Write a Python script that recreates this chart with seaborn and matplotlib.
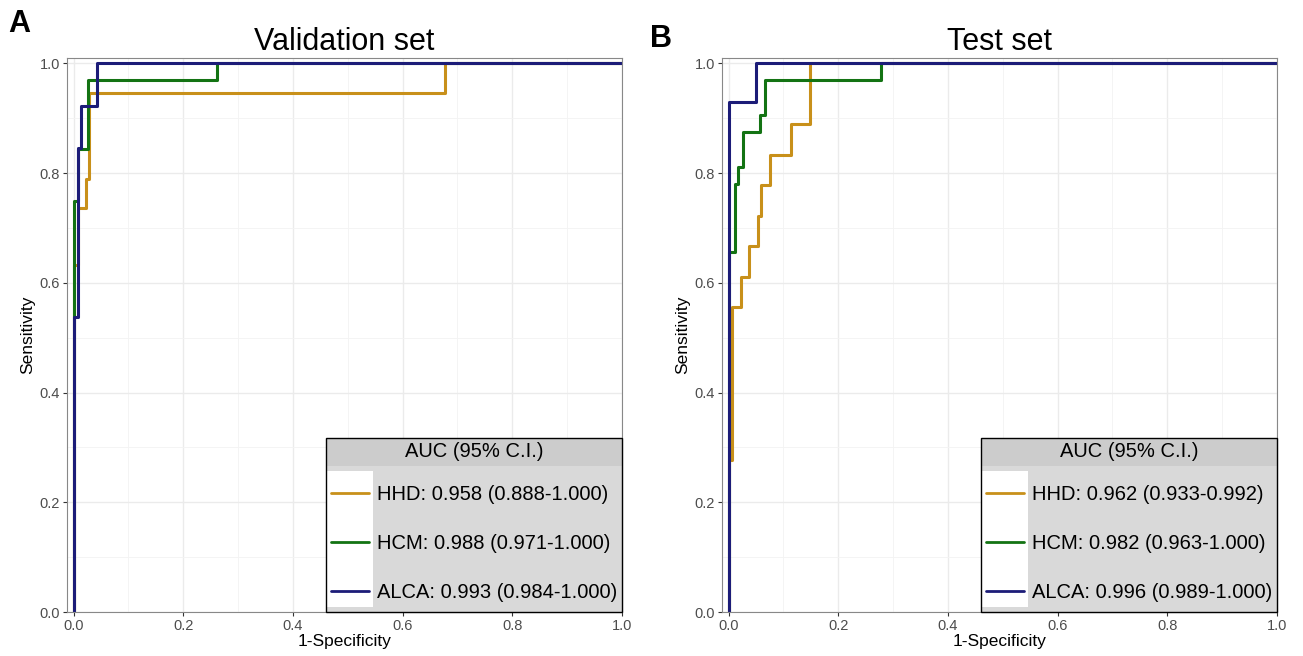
import numpy as np
import pandas as pd
import matplotlib
matplotlib.use('Agg')
import matplotlib.pyplot as plt
from matplotlib.patches import Rectangle
from matplotlib.lines import Line2D
import seaborn as sns

# ROC coordinates (1-specificity, sensitivity)
val_hhd_fpr  = [0.0, 0.0, 0.008, 0.008, 0.023, 0.023, 0.029, 0.029, 0.677, 0.677, 1.0]
val_hhd_sens = [0.0, 0.632, 0.632, 0.737, 0.737, 0.789, 0.789, 0.947, 0.947, 1.0, 1.0]
val_hcm_fpr  = [0.0, 0.0, 0.008, 0.008, 0.026, 0.026, 0.261, 0.261, 1.0]
val_hcm_sens = [0.0, 0.75, 0.75, 0.844, 0.844, 0.969, 0.969, 1.0, 1.0]
val_alca_fpr  = [0.0, 0.0, 0.008, 0.008, 0.014, 0.014, 0.043, 0.043, 1.0]
val_alca_sens = [0.0, 0.538, 0.538, 0.846, 0.846, 0.923, 0.923, 1.0, 1.0]

test_hhd_fpr  = [0.0, 0.0, 0.006, 0.006, 0.023, 0.023, 0.038, 0.038, 0.054, 0.054,
                 0.060, 0.060, 0.075, 0.075, 0.113, 0.113, 0.149, 0.149, 1.0]
test_hhd_sens = [0.0, 0.278, 0.278, 0.556, 0.556, 0.611, 0.611, 0.667, 0.667, 0.722,
                 0.722, 0.778, 0.778, 0.833, 0.833, 0.889, 0.889, 1.0, 1.0]
test_hcm_fpr  = [0.0, 0.0, 0.011, 0.011, 0.018, 0.018, 0.027, 0.027, 0.058, 0.058,
                 0.066, 0.066, 0.278, 0.278, 1.0]
test_hcm_sens = [0.0, 0.656, 0.656, 0.781, 0.781, 0.812, 0.812, 0.875, 0.875, 0.906,
                 0.906, 0.969, 0.969, 1.0, 1.0]
test_alca_fpr  = [0.0, 0.0, 0.050, 0.050, 1.0]
test_alca_sens = [0.0, 0.929, 0.929, 1.0, 1.0]

classes = ['HHD', 'HCM', 'ALCA']
colors = ['#C8901A', '#137313', '#1C1C78']
val_labels = ['HHD: 0.958 (0.888-1.000)', 'HCM: 0.988 (0.971-1.000)', 'ALCA: 0.993 (0.984-1.000)']
test_labels = ['HHD: 0.962 (0.933-0.992)', 'HCM: 0.982 (0.963-1.000)', 'ALCA: 0.996 (0.989-1.000)']
legend_title = 'AUC (95% C.I.)'
ticks = [0.0, 0.2, 0.4, 0.6, 0.8, 1.0]


def make_df(fprs, senss):
    parts = []
    for c, f, s in zip(classes, fprs, senss):
        parts.append(pd.DataFrame({'fpr': f, 'sens': s, 'cls': c}))
    return pd.concat(parts, ignore_index=True)


val_df = make_df([val_hhd_fpr, val_hcm_fpr, val_alca_fpr],
                 [val_hhd_sens, val_hcm_sens, val_alca_sens])
test_df = make_df([test_hhd_fpr, test_hcm_fpr, test_alca_fpr],
                  [test_hhd_sens, test_hcm_sens, test_alca_sens])

sns.set_theme(style='white')
plt.rcParams['font.family'] = ['Liberation Sans', 'DejaVu Sans']
plt.rcParams['text.color'] = 'black'
plt.rcParams['axes.labelcolor'] = 'black'

fig = plt.figure(figsize=(13.03, 6.56), dpi=100)
ax1 = fig.add_axes([67/1303, 1-612/656, 555/1303, 554/656])
ax2 = fig.add_axes([722/1303, 1-612/656, 555/1303, 554/656])

panels = [(ax1, val_df, val_labels, 'Validation set'),
          (ax2, test_df, test_labels, 'Test set')]

legends = []
for ax, df, labels, title in panels:
    sns.lineplot(data=df, x='fpr', y='sens', hue='cls', hue_order=classes,
                 palette=colors, sort=False, estimator=None, lw=2.2, ax=ax, legend=False)
    ax.set_xlim(-0.012, 1.0)
    ax.set_ylim(0.0, 1.01)
    ax.set_xticks(ticks)
    ax.set_yticks(ticks)
    ax.set_xticks([0.1, 0.3, 0.5, 0.7, 0.9], minor=True)
    ax.set_yticks([0.1, 0.3, 0.5, 0.7, 0.9], minor=True)
    ax.set_xticklabels([f'{t:.1f}' for t in ticks])
    ax.set_yticklabels([f'{t:.1f}' for t in ticks])
    ax.grid(True, which='major', color='#ebebeb', lw=1.0)
    ax.grid(True, which='minor', color='#f3f3f3', lw=0.6)
    ax.set_axisbelow(True)
    ax.tick_params(which='major', length=3, width=0.8, color='#333333',
                   labelsize=10.5, labelcolor='#4d4d4d', pad=2, bottom=True, left=True)
    ax.tick_params(which='minor', length=0)
    for sp in ax.spines.values():
        sp.set_color('#888888')
        sp.set_linewidth(0.8)
    ax.set_xlabel('1-Specificity', fontsize=12.5, labelpad=1)
    ax.set_ylabel('Sensitivity', fontsize=12.5, labelpad=3)
    ax.set_title(title, fontsize=22, pad=6)

    handles = [Line2D([], [], color=c, lw=2) for c in colors]
    leg = ax.legend(handles, labels, loc='lower right',
                    bbox_to_anchor=(1.0, 0.009), borderaxespad=0, fontsize=14.5,
                    labelspacing=1.5, handlelength=1.85,
                    handletextpad=0.4, borderpad=0.25, fancybox=False,
                    frameon=True, facecolor='none', edgecolor='none')
    leg.set_zorder(6)
    legends.append((ax, leg))

fig.text(8/1303, 1-32/656, 'A', fontsize=22, fontweight='bold', va='baseline')
fig.text(650/1303, 1-47/656, 'B', fontsize=22, fontweight='bold', va='baseline')

# legend background: grey body, darker title strip with title, white key column
fig.canvas.draw()
renderer = fig.canvas.get_renderer()
for ax, leg in legends:
    inv = ax.transAxes.inverted()
    fb = leg.get_frame().get_window_extent(renderer)
    hb = [h.get_window_extent(renderer) for h in leg.legend_handles]
    axb = ax.get_window_extent(renderer)
    first_y = (hb[0].y0 + hb[0].y1) / 2
    strip_bottom = first_y + 27
    strip_top = strip_bottom + 28
    (x0, y0), (x1, y1) = inv.transform([[fb.x0, axb.y0], [fb.x1, strip_top]])
    _, sb = inv.transform([0, strip_bottom])
    ax.add_patch(Rectangle((x0, y0), x1 - x0, y1 - y0, transform=ax.transAxes,
                           facecolor='#d9d9d9', edgecolor='none', zorder=5, clip_on=False))
    ax.add_patch(Rectangle((x0, sb), x1 - x0, y1 - sb, transform=ax.transAxes,
                           facecolor='#cccccc', edgecolor='none', zorder=5, clip_on=False))
    kx0 = min(h.x0 for h in hb) - 4
    kx1 = max(h.x1 for h in hb) + 4
    (wx0, wy0), (wx1, wy1) = inv.transform([[kx0, axb.y0 + 5], [kx1, strip_bottom - 5]])
    ax.add_patch(Rectangle((wx0, wy0), wx1 - wx0, wy1 - wy0, transform=ax.transAxes,
                           facecolor='white', edgecolor='none', zorder=5, clip_on=False))
    ax.add_patch(Rectangle((x0, y0), x1 - x0, y1 - y0, transform=ax.transAxes,
                           facecolor='none', edgecolor='black', lw=1.0, zorder=7, clip_on=False))
    ax.text((x0 + x1) / 2, (sb + y1) / 2, legend_title, transform=ax.transAxes,
            ha='center', va='center', fontsize=14.5, zorder=7)

fig.savefig('out.png', dpi=100)
